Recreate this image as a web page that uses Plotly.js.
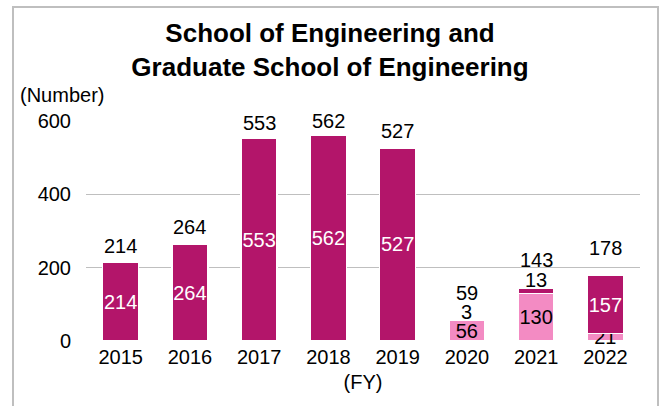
<!DOCTYPE html>
<html>
<head>
<meta charset="utf-8">
<script src="https://cdn.plot.ly/plotly-3.0.1.min.js"></script>
<style>html,body{margin:0;padding:0;background:#fff}#chart{width:660px;height:406px}</style>
</head>
<body>
<div id="chart"></div>
<script>
// ---- data ----
const years = ['2015','2016','2017','2018','2019','2020','2021','2022'];
const lowerSeries = [null, null, null, null, null, 56, 130, 21];   // light pink
const upperSeries = [214, 264, 553, 562, 527, 3, 13, 157];         // dark magenta
const totals = years.map((_, i) => (lowerSeries[i] || 0) + (upperSeries[i] || 0));

// ---- styles ----
const FONT = 'Liberation Sans, Arial, sans-serif';
const FS = 20;
const DARK = '#B3156A';
const LIGHT = '#F38BC3';
const upperInside = [true, true, true, true, true, false, false, true];
const upperOutShift = [0, 0, 0, 0, 0, 7, 9, 0];
const totalShift = [17, 17, 15, 14, 17, 26, 29, 28];

// plot area in px: left 86, right 640, top 121, bottom 341
const L = 86, R = 20, T = 121, B = 65, W = 660, H = 406;
const pw = W - L - R, ph = H - T - B;
const px2x = x => (x - L) / pw;
const py2y = y => (H - B - y) / ph;

const traces = [
  {
    type: 'bar', x: years, y: lowerSeries,
    marker: {color: LIGHT, line: {color: '#ffffff', width: 1.5}},
    text: lowerSeries.map(v => v == null ? '' : String(v)),
    textposition: 'inside', insidetextanchor: 'middle', constraintext: 'none', textangle: 0,
    insidetextfont: {family: FONT, size: FS, color: '#000'},
    hoverinfo: 'x+y', showlegend: false, cliponaxis: false
  },
  {
    type: 'bar', x: years, y: upperSeries,
    marker: {color: DARK, line: {color: '#ffffff', width: 1.5}},
    text: upperSeries.map((v, i) => upperInside[i] ? String(v) : ''),
    textposition: 'inside', insidetextanchor: 'middle', constraintext: 'none', textangle: 0,
    insidetextfont: {family: FONT, size: FS, color: '#fff'},
    hoverinfo: 'x+y', showlegend: false, cliponaxis: false
  }
];

const annotations = years.map((yr, i) => ({
  x: i, y: totals[i], xref: 'x', yref: 'y',
  text: String(totals[i]), showarrow: false,
  xanchor: 'center', yanchor: 'middle', yshift: totalShift[i],
  font: {family: FONT, size: FS, color: '#000'}
}));
// labels of thin top segments, shown just above the bar
years.forEach((yr, i) => {
  if (!upperInside[i]) {
    annotations.push({
      x: i, y: totals[i], xref: 'x', yref: 'y',
      text: String(upperSeries[i]), showarrow: false,
      xanchor: 'center', yanchor: 'middle', yshift: upperOutShift[i],
      font: {family: FONT, size: FS, color: '#000'}
    });
  }
});
annotations.push({
  xref: 'paper', yref: 'paper', x: px2x(18), y: py2y(95),
  xanchor: 'left', yanchor: 'middle', showarrow: false,
  text: '(Number)', font: {family: FONT, size: FS, color: '#000'}
});

const layout = {
  width: W, height: H,
  margin: {l: L, r: R, t: T, b: B, pad: 0},
  paper_bgcolor: '#fff', plot_bgcolor: '#fff',
  font: {family: FONT, size: FS, color: '#000'},
  barmode: 'stack', bargap: 0.48,
  showlegend: false,
  title: {
    text: '<b>School of Engineering and<br>Graduate School of Engineering</b>',
    font: {family: FONT, size: 26, color: '#000'},
    x: 0.5, xref: 'container', xanchor: 'center',
    y: 1 - 42 / H, yref: 'container', yanchor: 'top'
  },
  xaxis: {
    type: 'category', range: [-0.5, 7.5], autorange: false,
    showgrid: false, showline: false, zeroline: false,
    ticks: '', ticklabelstandoff: 2,
    tickfont: {family: FONT, size: FS, color: '#000'},
    title: {text: '(FY)', font: {family: FONT, size: FS, color: '#000'}, standoff: 7}
  },
  yaxis: {
    range: [0, 600], autorange: false, dtick: 200, tick0: 0,
    showgrid: true, gridcolor: '#bfbfbf', gridwidth: 1.5,
    zeroline: false, showline: false, ticks: '',
    ticklabelstandoff: 14,
    tickfont: {family: FONT, size: FS, color: '#000'}
  },
  annotations: annotations,
  shapes: [{
    type: 'rect', xref: 'paper', yref: 'paper',
    x0: px2x(13), x1: px2x(658), y0: py2y(420), y1: py2y(7),
    line: {color: '#bfbfbf', width: 2}, fillcolor: 'rgba(0,0,0,0)', layer: 'below'
  }]
};

Plotly.newPlot('chart', traces, layout, {displayModeBar: false, staticPlot: true});
</script>
</body>
</html>
